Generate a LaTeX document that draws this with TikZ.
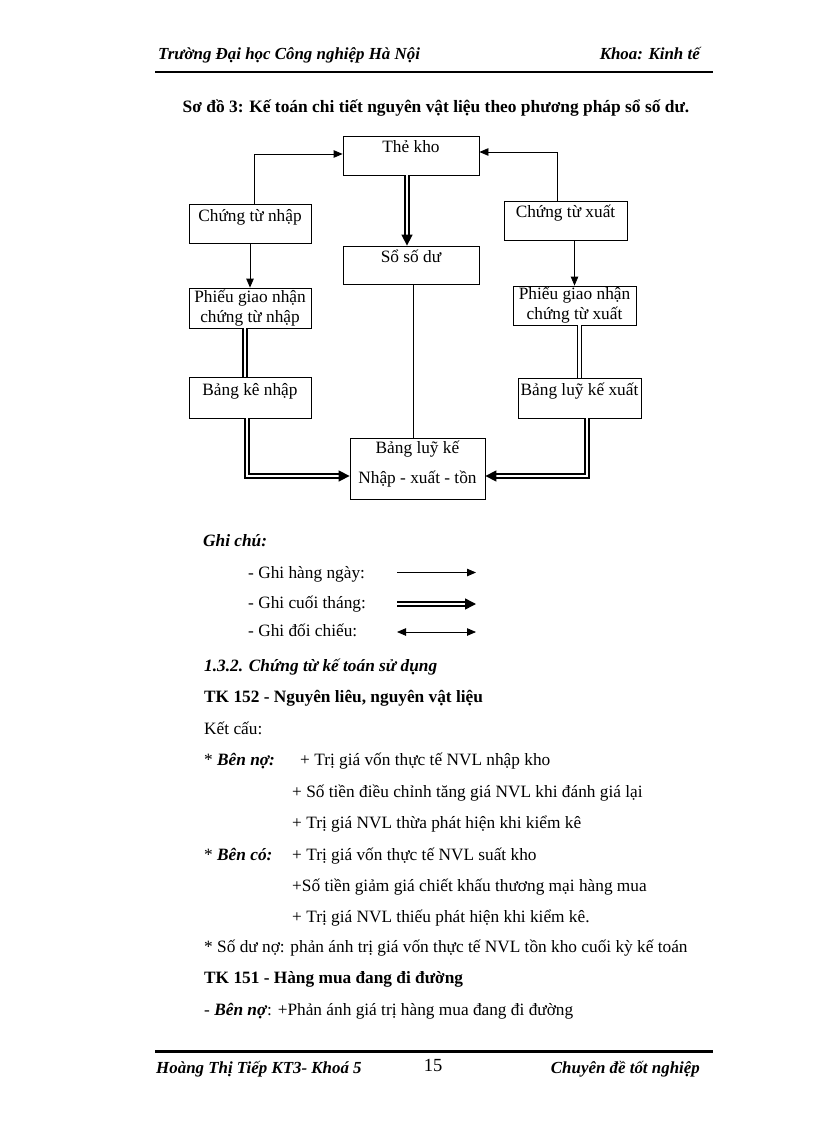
\documentclass[tikz,border=0pt]{standalone}
\usepackage{fontspec}
\setmainfont{Liberation Serif}
\usetikzlibrary{arrows.meta,positioning}
\begin{document}
\begin{tikzpicture} [
        x=1pt, y=-1pt,
        font=\fontsize{17.3}{20}\selectfont,
        box/.style={draw, rectangle, line width=0.8pt, inner sep=0pt, align=center},
        link/.style={line width=0.8pt},
        twin/.style={line width=1.5pt, double, double distance=2.2pt},
        daily/.style={link, -{Triangle[length=9pt,width=7.5pt]}},
        monthly/.style={twin, -{Triangle[length=11pt,width=11pt]}},
        txt/.style={anchor=base west, inner sep=0pt},
        hdr/.style={inner sep=0pt, font=\fontsize{16.9}{20}\selectfont\bfseries\itshape} ]
    \useasboundingbox (0,0) rectangle (816,1123);
    % header and footer
    \node[hdr, anchor=base west] (school) at (158,60) {Trường Đại học Công nghiệp Hà Nội};
    \node[hdr, anchor=base east] (faculty) at (700,60) {Khoa: Kinh tế};
    \draw[line width=2.8pt] (155,72) -- (713,72);
    \draw[line width=2.8pt] (155,1051.5) -- (713,1051.5);
    \node[hdr, anchor=base west] (author) at (156,1073) {Hoàng Thị Tiếp KT3- Khoá 5};
    \node[inner sep=0pt, anchor=base, font=\fontsize{18.5}{20}\selectfont] (page) at (433,1071) {15};
    \node[hdr, anchor=base east] (topic) at (700,1073) {Chuyên đề tốt nghiệp};
    % title
    \node[inner sep=0pt, anchor=base, font=\fontsize{17.4}{22}\selectfont\bfseries] (title) at (436,113)
        {Sơ đồ 3: Kế toán chi tiết nguyên vật liệu theo phương pháp sổ số dư.};
    % boxes
    \node[box, minimum width=136pt, text height=16.5pt, text depth=22.5pt] (tk) at (411,155.5) {Thẻ kho};
    \node[box, minimum width=122pt, text height=18pt, text depth=21pt] (ctn) at (250,223.5) {Chứng từ nhập};
    \node[box, minimum width=123pt, text height=16.8pt, text depth=22.2pt] (ctx) at (565.5,220.5) {Chứng từ xuất};
    \node[box, minimum width=136pt, text height=16.2pt, text depth=21.8pt] (ssd) at (411,265) {Sổ số dư};
    \node[box, minimum width=122pt, minimum height=40pt] (pgn) at (250,308) {Phiếu giao nhận\\chứng từ nhập};
    \node[box, minimum width=123pt, minimum height=39pt] (pgx) at (574.5,305.5) {Phiếu giao nhận\\chứng từ xuất};
    \node[box, minimum width=122pt, text height=18pt, text depth=23pt] (bkn) at (250,397.5) {Bảng kê nhập};
    \node[box, minimum width=123pt, text height=17.5pt, text depth=22.5pt] (blx) at (579.5,398) {Bảng luỹ kế xuất};
    \node[box, minimum width=135pt, minimum height=61pt] (blk) at (417.5,468.5)
        {Bảng luỹ kế\\[10pt]Nhập - xuất - tồn\rule[-13pt]{0pt}{13pt}};
    % connectors
    \draw[daily] ([xshift=4pt]ctn.north) |- ([yshift=1.5pt]tk.west);
    \draw[daily] ([xshift=-8.5pt]ctx.north) |- ([yshift=3.5pt]tk.east);
    \draw[monthly] ([xshift=-4pt]tk.south) -- ([xshift=-4pt]ssd.north);
    \draw[daily] (ctn.south) -- (pgn.north);
    \draw[daily] (ctx.south -| pgx.north) -- (pgx.north);
    \draw[twin] ([xshift=-5pt]pgn.south) -- ([xshift=-5pt]bkn.north);
    \draw[twin] (pgx.south -| blx.north) -- (blx.north);
    \draw[link] ([xshift=2pt]ssd.south) -- ([xshift=2pt]ssd.south |- blk.north);
    \draw[monthly] ([xshift=-3pt]bkn.south) |- ([yshift=-7.5pt]blk.west);
    \draw[monthly] ([xshift=7.5pt]blx.south) |- ([yshift=-7.5pt]blk.east);
    % legend
    \node[txt, font=\fontsize{17.3}{20}\selectfont\bfseries\itshape] (note) at (203,546) {Ghi chú:};
    \node[txt] (every) at (248,578) {- Ghi hàng ngày:};
    \node[txt] (month) at (248,608) {- Ghi cuối tháng:};
    \node[txt] (cross) at (248,636) {- Ghi đối chiếu:};
    \coordinate (a1) at (397,572.5); \coordinate (b1) at (476,572.5);
    \coordinate (a2) at (397,604);   \coordinate (b2) at (476,604);
    \coordinate (a3) at (397,632);   \coordinate (b3) at (476,632);
    \draw[daily] (a1) -- (b1);
    \draw[monthly] (a2) -- (b2);
    \draw[link, {Triangle[length=9pt,width=7.5pt]}-{Triangle[length=9pt,width=7.5pt]}] (a3) -- (b3);
    % text below
    \node[txt, font=\fontsize{17.3}{20}\selectfont\bfseries\itshape] (sec) at (204,671) {1.3.2. Chứng từ kế toán sử dụng};
    \node[txt, font=\fontsize{17.3}{20}\selectfont\bfseries] (tk152) at (204,702) {TK 152 - Nguyên liêu, nguyên vật liệu};
    \node[txt] (kc) at (204,734) {Kết cấu:};
    \node[txt] (no) at (204,765) {* \textbf{\textit{Bên nợ:}}};
    \node[txt] (no1) at (300,765) {+ Trị giá vốn thực tế NVL nhập kho};
    \node[txt] (no2) at (292,797) {+ Số tiền điều chỉnh tăng giá NVL khi đánh giá lại};
    \node[txt] (no3) at (292,828) {+ Trị giá NVL thừa phát hiện khi kiểm kê};
    \node[txt] (co) at (204,860) {* \textbf{\textit{Bên có:}}};
    \node[txt] (co1) at (292,860) {+ Trị giá vốn thực tế NVL suất kho};
    \node[txt] (co2) at (292,891) {+Số tiền giảm giá chiết khấu thương mại hàng mua};
    \node[txt] (co3) at (292,922) {+ Trị giá NVL thiếu phát hiện khi kiểm kê.};
    \node[txt] (du) at (204,952) {* Số dư nợ: phản ánh trị giá vốn thực tế NVL tồn kho cuối kỳ kế toán};
    \node[txt, font=\fontsize{17.3}{20}\selectfont\bfseries] (tk151) at (204,983) {TK 151 - Hàng mua đang đi đường};
    \node[txt] (no151) at (204,1015) {- \textbf{\textit{Bên nợ}}: +Phản ánh giá trị hàng mua đang đi đường};
\end{tikzpicture}
\end{document}
